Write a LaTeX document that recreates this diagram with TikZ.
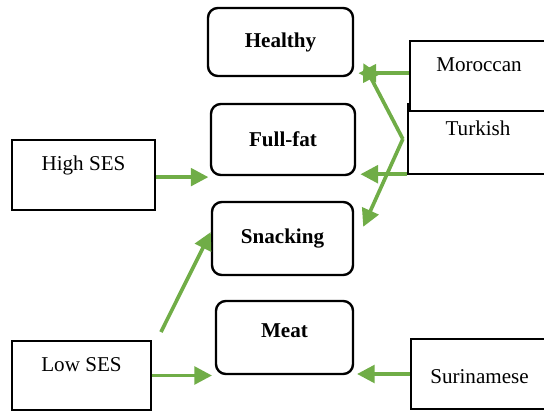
\documentclass[tikz,border=0pt]{standalone}
\usepackage{fontspec}
\setmainfont{Liberation Serif}
\usetikzlibrary{arrows.meta}

\definecolor{arrowgreen}{HTML}{70AD47}
\def\boxfont{\fontsize{15}{18}\selectfont}

\tikzset{
  catbox/.style={draw, line width=1.7pt, rounded corners=7pt, font=\boxfont\bfseries},
  groupbox/.style={draw, line width=1.3pt, fill=white, font=\boxfont},
  liftup/.style={text height=10pt, text depth=#1},
  flow/.style={draw=arrowgreen, line width=2.6pt, -{Triangle[length=12.5pt,width=12.5pt]}},
}

\begin{document}
\begin{tikzpicture}[x=0.025cm, y=-0.025cm]
  \useasboundingbox (0,0) rectangle (544,414);

  % Food categories
  \node[catbox, minimum width=3.625cm, minimum height=1.7cm]   (healthy)  at (280.5,42)  {Healthy};
  \node[catbox, minimum width=3.6cm,   minimum height=1.775cm] (fullfat)  at (283,139.5) {Full-fat};
  \node[catbox, minimum width=3.525cm, minimum height=1.825cm] (snacking) at (282.5,238.5) {Snacking};
  \node[catbox, minimum width=3.425cm, minimum height=1.825cm, liftup=10.6pt] (meat) at (284.5,337.5) {Meat};

  % Groups (Turkish first, Moroccan is laid over its top edge)
  \node[groupbox, minimum width=3.5cm,   minimum height=1.75cm,  liftup=15.6pt] (turkish)    at (478,139)    {Turkish};
  \node[groupbox, minimum width=3.45cm,  minimum height=1.75cm,  liftup=17pt]   (moroccan)   at (479,76)     {Moroccan};
  \node[groupbox, minimum width=3.575cm, minimum height=1.75cm,  liftup=17pt]   (highses)    at (83.5,175)   {High SES};
  \node[groupbox, minimum width=3.475cm, minimum height=1.725cm, liftup=16pt]   (lowses)     at (81.5,375.5) {Low SES};
  \node[groupbox, minimum width=3.425cm, minimum height=1.75cm, text height=14pt, text depth=0pt] (surinamese) at (479.5,374) {Surinamese};

  % Associations
  \coordinate (tk) at ([xshift=-3pt]turkish.west);
  \draw[flow, shorten >=3pt] ([yshift=2pt]moroccan.west) -- ([yshift=2pt]moroccan.west -| healthy.east);
  \draw[flow] (tk) -- ([xshift=6.4pt,yshift=10pt]healthy.south east);
  \draw[flow] (tk) -- ([xshift=6.4pt,yshift=-18.5pt]snacking.north east);
  \draw[flow, shorten >=3pt] ([yshift=0.5pt]turkish.south west) -- ([yshift=0.5pt]turkish.south west -| fullfat.east);
  \draw[flow, shorten >=1pt] ([yshift=-1.5pt]highses.east) -- ([yshift=-1.5pt]highses.east -| fullfat.west);
  \draw[flow] ([xshift=6.4pt,yshift=5.7pt]lowses.north east) -- ([yshift=4.6pt]snacking.west);
  \draw[flow, shorten >=2pt] (lowses.east) -- (lowses.east -| meat.west);
  \draw[flow, shorten >=2pt] (surinamese.west) -- (surinamese.west -| meat.east);
\end{tikzpicture}
\end{document}
